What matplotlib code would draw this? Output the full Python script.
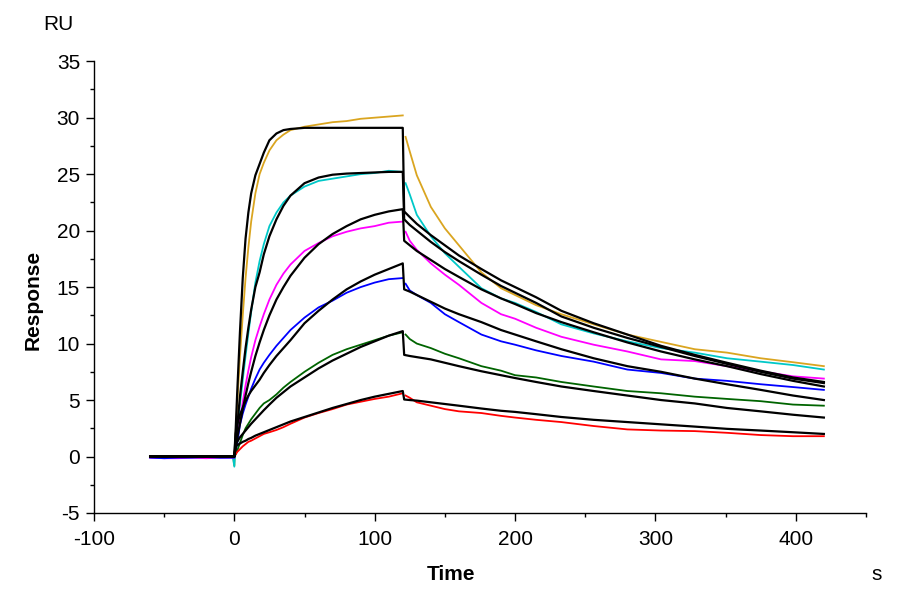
import matplotlib.pyplot as plt

plt.rcParams['font.family'] = ['Liberation Sans', 'DejaVu Sans']
plt.rcParams['axes.unicode_minus'] = False

# time grids (s)
t_base = [-60, -50, -40, -30, -20, -10, -1]
t_assoc = [0, 1, 2, 4, 6, 8, 10, 12, 15, 18, 21, 25, 30, 35, 40, 50, 60, 70, 80, 90, 100, 110, 120]
t_diss_data = [122, 125, 130, 140, 150, 160, 176, 190, 200, 215, 233, 256, 280, 304, 328, 351, 375, 398, 420]
t_diss_fit = [121, 125, 130, 140, 150, 160, 176, 190, 200, 215, 233, 256, 280, 304, 328, 351, 375, 398, 420]

# measured responses (RU), highest to lowest concentration
orange_base = [0.05, 0.05, 0.0, 0.05, 0.0, 0.05, 0.0]
orange_assoc = [-0.8, 2.2, 4.5, 8.8, 12.5, 15.8, 18.5, 20.8, 23.3, 25.0, 26.0, 27.1, 28.0, 28.5, 28.9,
                29.2, 29.4, 29.6, 29.7, 29.9, 30.0, 30.1, 30.2]
orange_diss = [28.3, 27.0, 24.9, 22.1, 20.2, 18.7, 16.3, 14.9, 14.3, 13.4, 12.6, 11.7, 10.8, 10.15,
               9.5, 9.2, 8.7, 8.35, 8.0]

cyan_base = [-0.05, -0.05, -0.1, -0.05, -0.05, -0.1, -0.05]
cyan_assoc = [-0.9, 1.2, 2.5, 4.6, 6.8, 8.9, 10.9, 12.8, 15.4, 17.3, 18.8, 20.4, 21.6, 22.5, 23.1,
              23.9, 24.4, 24.6, 24.8, 25.0, 25.1, 25.3, 25.2]
cyan_diss = [24.2, 23.2, 21.4, 19.5, 18.0, 16.8, 14.9, 14.0, 13.6, 12.8, 11.7, 10.9, 10.2, 9.6,
             9.2, 8.7, 8.4, 8.1, 7.7]

magenta_base = [-0.1, -0.15, -0.15, -0.1, -0.15, -0.1, -0.1]
magenta_assoc = [-0.1, 0.8, 1.5, 3.2, 4.8, 6.3, 7.6, 8.8, 10.3, 11.5, 12.6, 13.9, 15.2, 16.2, 17.0,
                 18.2, 18.9, 19.5, 19.9, 20.2, 20.4, 20.7, 20.8]
magenta_diss = [19.9, 19.1, 18.3, 17.1, 16.1, 15.2, 13.6, 12.6, 12.2, 11.4, 10.6, 9.9, 9.3, 8.6,
                8.45, 8.0, 7.55, 7.1, 6.9]

blue_base = [-0.1, -0.15, -0.1, -0.1, -0.05, -0.1, -0.1]
blue_assoc = [-0.1, 0.4, 1.1, 2.8, 3.8, 4.6, 5.3, 6.0, 6.9, 7.7, 8.3, 9.0, 9.8, 10.5, 11.2,
              12.3, 13.2, 13.8, 14.5, 15.0, 15.4, 15.7, 15.8]
blue_diss = [15.3, 14.7, 14.3, 13.6, 12.6, 11.9, 10.8, 10.2, 9.9, 9.4, 8.9, 8.4, 7.7, 7.4,
             6.9, 6.7, 6.4, 6.15, 5.9]

green_base = [0.05, 0.0, 0.0, 0.05, 0.0, 0.0, 0.0]
green_assoc = [0.0, 0.2, 0.5, 1.2, 1.9, 2.5, 2.9, 3.3, 3.8, 4.3, 4.7, 5.0, 5.5, 6.1, 6.6,
               7.5, 8.3, 9.0, 9.5, 9.9, 10.3, 10.7, 11.0]
green_diss = [10.8, 10.4, 10.0, 9.6, 9.1, 8.7, 8.0, 7.6, 7.2, 7.0, 6.6, 6.2, 5.8, 5.6,
              5.3, 5.1, 4.9, 4.6, 4.5]

red_base = [-0.05, 0.0, -0.05, 0.0, -0.05, 0.0, 0.0]
red_assoc = [0.0, 0.2, 0.4, 0.65, 0.9, 1.1, 1.3, 1.4, 1.6, 1.8, 2.0, 2.15, 2.35, 2.6, 2.9,
             3.45, 3.85, 4.2, 4.6, 4.85, 5.1, 5.3, 5.6]
red_diss = [5.4, 5.2, 4.8, 4.5, 4.2, 4.0, 3.85, 3.6, 3.45, 3.25, 3.05, 2.7, 2.4, 2.3,
            2.25, 2.1, 1.9, 1.8, 1.8]

# 1:1 fitted curves (RU)
fit_base = [0, 0, 0, 0, 0, 0, 0]
fit1_assoc = [0, 2.5, 5.5, 11.0, 15.8, 19.3, 21.6, 23.3, 24.9, 25.9, 26.9, 28.0, 28.6, 28.9, 29.0,
              29.1, 29.1, 29.1, 29.1, 29.1, 29.1, 29.1, 29.1]
fit1_diss = [21.7, 21.2, 20.6, 19.6, 18.7, 17.8, 16.6, 15.6, 15.0, 14.1, 12.9, 11.8, 10.8, 9.8,
             9.0, 8.3, 7.6, 7.0, 6.6]
fit2_assoc = [0, 1.2, 2.6, 5.3, 7.5, 9.6, 11.4, 13.0, 15.0, 16.3, 17.9, 19.5, 21.0, 22.2, 23.1,
              24.2, 24.7, 24.95, 25.05, 25.1, 25.15, 25.2, 25.2]
fit2_diss = [21.0, 20.5, 20.0, 19.0, 18.1, 17.3, 16.1, 15.1, 14.5, 13.6, 12.4, 11.4, 10.5, 9.7,
             8.9, 8.2, 7.5, 6.9, 6.5]
fit3_assoc = [0, 1.0, 1.6, 2.9, 4.2, 5.4, 6.5, 7.5, 8.9, 10.1, 11.2, 12.5, 13.9, 15.0, 16.0,
              17.6, 18.8, 19.7, 20.4, 21.0, 21.4, 21.7, 21.9]
fit3_diss = [19.1, 18.7, 18.2, 17.4, 16.6, 15.9, 14.8, 14.0, 13.5, 12.7, 11.9, 11.0, 10.1, 9.3,
             8.6, 8.0, 7.3, 6.7, 6.2]
fit4_assoc = [0, 2.0, 2.8, 3.7, 4.3, 4.9, 5.4, 5.8, 6.3, 6.8, 7.4, 8.1, 8.9, 9.6, 10.3,
              11.8, 12.9, 13.9, 14.8, 15.5, 16.1, 16.6, 17.1]
fit4_diss = [14.8, 14.6, 14.3, 13.7, 13.1, 12.6, 11.9, 11.2, 10.8, 10.2, 9.5, 8.7, 8.0, 7.5,
             6.9, 6.4, 5.9, 5.4, 5.0]
fit5_assoc = [0, 1.0, 1.3, 1.7, 2.0, 2.3, 2.6, 2.9, 3.3, 3.7, 4.1, 4.6, 5.2, 5.7, 6.2,
              7.0, 7.8, 8.5, 9.1, 9.7, 10.2, 10.7, 11.1]
fit5_diss = [9.0, 8.9, 8.8, 8.6, 8.3, 8.0, 7.55, 7.2, 6.95, 6.6, 6.2, 5.8, 5.4, 5.0,
             4.7, 4.3, 4.0, 3.7, 3.45]
fit6_assoc = [0, 0.9, 1.0, 1.15, 1.3, 1.4, 1.55, 1.65, 1.85, 2.0, 2.15, 2.35, 2.6, 2.85, 3.1,
              3.5, 3.9, 4.3, 4.65, 5.0, 5.3, 5.55, 5.8]
fit6_diss = [5.05, 5.0, 4.95, 4.8, 4.65, 4.5, 4.25, 4.05, 3.95, 3.75, 3.5, 3.25, 3.05, 2.85,
             2.65, 2.45, 2.3, 2.15, 2.0]

data = [
    ("#DAA520", orange_base, orange_assoc, orange_diss),
    ("#00C8C8", cyan_base, cyan_assoc, cyan_diss),
    ("#FF00FF", magenta_base, magenta_assoc, magenta_diss),
    ("#0000FF", blue_base, blue_assoc, blue_diss),
    ("#006400", green_base, green_assoc, green_diss),
    ("#FF0000", red_base, red_assoc, red_diss),
]
fits = [
    (fit1_assoc, fit1_diss), (fit2_assoc, fit2_diss), (fit3_assoc, fit3_diss),
    (fit4_assoc, fit4_diss), (fit5_assoc, fit5_diss), (fit6_assoc, fit6_diss),
]

fig = plt.figure(figsize=(9, 6), dpi=100)
ax = fig.add_axes([0.1044, 0.145, 0.8578, 0.753])

for color, base, assoc, diss in data:
    ax.plot(t_base + t_assoc, base + assoc, color=color, lw=1.3)
    ax.plot(t_diss_data, diss, color=color, lw=1.3)

for assoc, diss in fits:
    ax.plot(t_base + t_assoc + t_diss_fit, fit_base + assoc + diss, color="black", lw=1.6)

ax.set_xlim(-100, 450)
ax.set_ylim(-5, 35)
ax.set_xticks([-100, 0, 100, 200, 300, 400])
ax.set_xticks([-50, 50, 150, 250, 350, 450], minor=True)
ax.set_yticks([-5, 0, 5, 10, 15, 20, 25, 30, 35])
ax.set_yticks([-2.5, 2.5, 7.5, 12.5, 17.5, 22.5, 27.5, 32.5], minor=True)
ax.tick_params(which="major", length=6, width=1, labelsize=15, direction="out")
ax.tick_params(which="minor", length=3, width=1, direction="out")
ax.tick_params(axis="x", which="major", pad=6)
ax.tick_params(axis="y", which="major", pad=4)
for side in ["top", "right"]:
    ax.spines[side].set_visible(False)
for side in ["left", "bottom"]:
    ax.spines[side].set_linewidth(1.0)

fig.text(451 / 900, 1 - 575 / 600, "Time", fontsize=15, fontweight="bold", ha="center", va="center")
fig.text(33 / 900, 1 - 300 / 600, "Response", fontsize=15, fontweight="bold", rotation=90,
         ha="center", va="center")
fig.text(58 / 900, 1 - 25 / 600, "RU", fontsize=15, ha="center", va="center")
fig.text(877 / 900, 1 - 575 / 600, "s", fontsize=15, ha="center", va="center")

fig.savefig("out.png", dpi=100)
